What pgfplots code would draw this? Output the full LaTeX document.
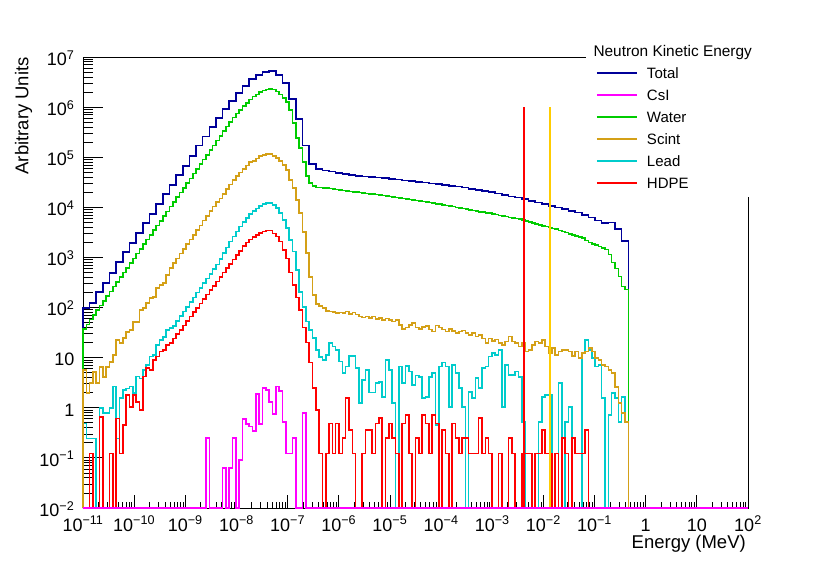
\documentclass[border=0pt]{standalone}
\usepackage{fontspec}
\setmainfont{Liberation Sans}
\usepackage{pgfplots}
\usepackage{pgfplotstable}
\pgfplotsset{compat=1.18}
\definecolor{cTotal}{RGB}{0,0,153}
\definecolor{cCsI}{RGB}{255,0,255}
\definecolor{cWater}{RGB}{0,204,0}
\definecolor{cScint}{RGB}{212,160,23}
\definecolor{cLead}{RGB}{0,204,204}
\definecolor{cHDPE}{RGB}{255,0,0}
\definecolor{cLineY}{RGB}{255,204,0}
\newcommand{\tp}[1]{10\textsuperscript{#1}}
\def\xminor{1e-11}
\foreach \e in {-11,...,1}{\foreach \m in {2,...,9}{\xdef\xminor{\xminor,\m e\e}}}
\def\yminor{1e-2}
\foreach \e in {-2,...,6}{\foreach \m in {2,...,9}{\xdef\yminor{\yminor,\m e\e}}}

\pgfplotstableread{
lx water scint lead hdpe csi
-11 0.01 0.01 0.01 0.01 0.01
-11 37.2 5.68 0.49 0.01 0.01
-10.935 46.1 1.97 0.245 0.01 0.01
-10.87 57.3 3.13 0.245 0.123 0.01
-10.805 71.1 5.19 0.245 0.01 0.01
-10.74 88.3 3.13 0.01 0.01 0.01
-10.675 110 6.52 0.99 0.66 0.01
-10.61 136 4.12 0.78 0.01 0.01
-10.545 169 6.52 0.78 0.01 0.01
-10.48 210 8.20 0.99 0.123 0.01
-10.415 261 11.3 2.64 0.01 0.01
-10.35 324 22.5 0.245 0.61 0.01
-10.285 402 19.6 1.55 0.123 0.01
-10.22 499 24.7 2.26 0.454 0.01
-10.155 619 32.6 2.44 1.80 0.01
-10.09 769 35.7 2.64 1.05 0.01
-10.025 955 51.6 1.95 1.80 0.01
-9.96 1190 51.6 4.18 1.32 0.01
-9.895 1470 89.5 3.87 0.90 0.01
-9.83 1830 98.2 5.68 4.18 0.01
-9.765 2270 124 7.14 6.14 0.01
-9.7 2820 156 10.5 5.68 0.01
-9.635 3500 163 11.3 9.0 0.01
-9.57 4350 246 17.9 10.5 0.01
-9.505 5400 282 22.5 13.2 0.01
-9.44 6700 310 26.2 14.3 0.01
-9.375 8320 448 35.7 17.9 0.01
-9.31 10300 622 38.6 19.7 0.01
-9.245 12800 773 43.4 24.1 0.01
-9.18 15900 959 54.0 29.4 0.01
-9.115 19800 1190 67.0 36.1 0.01
-9.05 24500 1480 83.2 44.2 0.01
-8.985 30500 1840 103 54.0 0.01
-8.92 37800 2280 128 66.1 0.01
-8.855 47000 2830 159 80.8 0.01
-8.79 58300 3520 198 98.9 0.01
-8.725 72400 4370 245 121 0.01
-8.66 89900 5420 305 148 0.01
-8.595 112000 6730 378 181 0.246
-8.53 139000 8360 470 222 0.01
-8.465 172000 10400 583 271 0.01
-8.4 214000 12900 724 332 0.01
-8.335 265000 14900 942 406 0.01
-8.27 330000 18500 1220 497 0.062
-8.205 409000 23000 1590 608 0.01
-8.14 508000 28600 2070 743 0.062
-8.075 617000 34700 2630 910 0.246
-8.01 741000 41700 3310 1110 0.01
-7.945 881000 49500 4120 1360 0.091
-7.88 1040000 58200 5070 1670 0.59
-7.815 1220000 68400 6100 2000 0.475
-7.75 1430000 80400 7330 2290 0.42
-7.685 1620000 85100 8510 2570 0.344
-7.62 1800000 94400 9440 2820 1.88
-7.555 2000000 105000 10700 3090 0.475
-7.49 2140000 112000 11500 3270 2.45
-7.425 2260000 115000 12200 3430 2.26
-7.36 2310000 115000 12300 3430 1.32
-7.295 2240000 106000 11200 3020 0.75
-7.23 2040000 96800 9590 2630 2.64
-7.165 1780000 84300 7620 2090 2.19
-7.1 1510000 70200 5610 1410 0.527
-7.035 1260000 55800 3830 955 0.123
-6.97 871000 35200 2230 501 0.123
-6.905 479000 24400 1310 282 0.246
-6.84 240000 14100 564 158 0.01
-6.775 151000 7730 207 89.1 0.01
-6.71 79400 3230 104 39.8 0.78
-6.645 41700 1230 52.5 20.0 0.01
-6.58 30200 408 35.5 7.94 0.01
-6.515 26300 178 24.5 2.45 0.01
-6.45 25100 118 14.1 0.912 0.01
-6.385 24800 108 10.2 0.123 0.01
-6.32 24500 98.2 8.91 0.01 0.01
-6.255 24000 85.5 11.2 0.123 0.01
-6.19 23600 83.2 19.5 0.49 0.01
-6.125 23100 81.3 16.6 0.123 0.01
-6.06 22700 77.6 14.1 0.49 0.01
-5.995 22200 79.4 8.32 0.123 0.01
-5.93 21800 77.6 4.90 0.25 0.01
-5.865 21300 83.2 6.61 1.55 0.01
-5.8 20800 74.1 10.7 0.36 0.01
-5.735 20400 79.4 10.7 0.123 0.01
-5.67 20000 72.4 6.17 0.01 0.01
-5.605 19600 66.1 1.23 0.01 0.01
-5.54 19300 63.1 3.63 0.123 0.01
-5.475 18900 66.1 5.62 0.36 0.01
-5.41 18600 61.7 2.00 0.36 0.01
-5.345 18200 66.1 2.00 0.123 0.01
-5.28 17900 58.9 3.16 0.49 0.01
-5.215 17500 61.7 3.31 0.62 0.01
-5.15 17100 56.2 1.66 0.01 0.01
-5.085 16700 60.3 8.91 0.25 0.01
-5.02 16400 56.2 5.62 0.49 0.01
-4.955 16000 52.5 1.23 0.25 0.01
-4.89 15700 56.2 0.01 0.123 0.01
-4.825 15300 44.7 6.61 0.01 0.01
-4.76 15000 37.2 3.09 0.49 0.01
-4.695 14700 39.8 6.76 0.72 0.01
-4.63 14400 44.7 5.25 0.123 0.01
-4.565 14000 49.0 2.88 0.01 0.01
-4.5 13700 39.8 4.37 0.25 0.01
-4.435 13300 37.2 4.17 0.123 0.01
-4.37 13000 40.7 1.55 0.72 0.01
-4.305 12700 42.7 1.66 0.49 0.01
-4.24 12400 36.3 4.17 0.123 0.01
-4.175 12100 33.1 4.90 0.72 0.01
-4.11 11800 43.7 0.457 0.49 0.01
-4.045 11500 39.8 6.61 0.01 0.01
-3.98 11200 36.3 7.94 0.36 0.01
-3.915 10900 33.1 6.61 0.123 0.01
-3.85 10600 37.2 1.05 0.01 0.01
-3.785 10300 33.9 7.08 0.49 0.01
-3.72 10000 30.9 4.90 0.25 0.01
-3.655 9730 33.1 2.45 0.123 0.01
-3.59 9440 34.7 1.05 0.25 0.01
-3.525 9140 30.9 0.01 0.25 0.01
-3.46 8870 28.2 2.09 0.123 0.01
-3.395 8590 30.9 1.55 0.123 0.01
-3.33 8390 26.3 3.89 0.123 0.01
-3.265 8180 28.2 2.45 0.62 0.01
-3.2 8000 24.0 6.17 0.123 0.01
-3.135 7800 19.5 6.61 0.25 0.01
-3.07 7620 24.0 10.5 0.123 0.01
-3.005 7380 21.4 12.3 0.01 0.01
-2.94 7160 22.9 11.2 0.01 0.01
-2.875 6930 19.5 14.1 0.123 0.01
-2.81 6730 17.8 1.05 0.01 0.01
-2.745 6520 20.9 7.08 0.01 0.01
-2.68 6320 26.3 4.47 0.25 0.01
-2.615 6140 20.9 4.47 0.123 0.01
-2.55 5960 19.5 5.25 0.01 0.01
-2.485 5780 16.6 4.17 0.01 0.01
-2.42 5610 19.5 0.525 0.123 0.01
-2.355 5360 13.2 0.01 0.123 0.01
-2.29 5120 14.1 0.01 0.123 0.01
-2.225 4890 17.8 0.01 0.01 0.01
-2.16 4670 20.9 0.01 0.123 0.01
-2.095 4460 19.5 0.525 0.123 0.01
-2.03 4290 22.4 1.66 0.36 0.01
-1.965 4120 16.6 1.78 0.123 0.01
-1.9 3950 12.3 1.78 0.123 0.01
-1.835 3800 15.5 0.01 0.01 0.01
-1.77 3660 11.2 0.01 0.123 0.01
-1.705 3470 13.2 3.09 0.01 0.01
-1.64 3290 14.1 0.01 0.25 0.01
-1.575 3130 14.1 0.525 0.123 0.01
-1.51 2960 13.2 1.05 0.01 0.01
-1.445 2810 10.7 0.01 0.25 0.01
-1.38 2670 13.2 0.01 0.123 0.01
-1.315 2540 9.77 0.01 0.123 0.01
-1.25 2420 12.3 12.3 0.123 0.01
-1.185 2190 13.2 22.4 0.36 0.01
-1.12 2000 15.5 14.1 0.01 0.01
-1.055 1860 13.2 9.77 0.01 0.01
-0.99 1780 9.77 6.61 0.01 0.01
-0.925 1660 8.91 7.08 0.01 0.01
-0.86 1550 7.08 1.55 0.01 0.01
-0.795 1450 6.61 0.01 0.01 0.01
-0.73 1150 5.62 0.724 0.01 0.01
-0.665 794 4.90 1.95 0.01 0.01
-0.6 603 2.63 1.55 0.01 0.01
-0.535 417 1.23 0.525 0.01 0.01
-0.47 263 0.776 1.66 0.01 0.01
-0.405 229 0.525 0.525 0.01 0.01
-0.34 0.01 0.01 0.01 0.01 0.01
2 0.01 0.01 0.01 0.01 0.01
}\fine

\pgfplotstableread{
lx total
-11 0.01
-11 97.7
-10.87 123
-10.74 204
-10.61 309
-10.48 490
-10.35 813
-10.22 1290
-10.09 1950
-9.96 3090
-9.83 4900
-9.7 7410
-9.57 11700
-9.44 18600
-9.31 28200
-9.18 44700
-9.05 67600
-8.92 107000
-8.79 170000
-8.66 257000
-8.53 398000
-8.4 603000
-8.27 912000
-8.14 1320000
-8.01 1910000
-7.88 2630000
-7.75 3630000
-7.62 4370000
-7.49 5010000
-7.36 5250000
-7.23 4370000
-7.1 3020000
-6.97 1450000
-6.84 575000
-6.71 170000
-6.58 72400
-6.45 58400
-6.32 54000
-6.19 51600
-6.06 48000
-5.93 45800
-5.8 43700
-5.67 42300
-5.54 41000
-5.41 40400
-5.28 39200
-5.15 38100
-5.02 36900
-4.89 35700
-4.76 34100
-4.63 33200
-4.5 32100
-4.37 31100
-4.24 29700
-4.11 28900
-3.98 28000
-3.85 26700
-3.72 25900
-3.59 24700
-3.46 23300
-3.33 21900
-3.2 20900
-3.07 20000
-2.94 18800
-2.81 17700
-2.68 16400
-2.55 15600
-2.42 14700
-2.29 13400
-2.16 12400
-2.03 11500
-1.9 10700
-1.77 9860
-1.64 9160
-1.51 8470
-1.38 7840
-1.25 7050
-1.12 6220
-0.99 5430
-0.86 4820
-0.73 4950
-0.6 3660
-0.47 2130
-0.34 0.01
2 0.01
}\coarse

\begin{document}
\begin{tikzpicture}
\path[use as bounding box] (0bp,0bp) rectangle (830bp,565bp);
\begin{axis}[
  at={(83bp,57bp)}, anchor=south west,
  scale only axis, width=665bp, height=451bp,
  xmode=log, ymode=log,
  xmin=1e-11, xmax=1e2, ymin=1e-2, ymax=1e7,
  clip=false,
  axis line style={black, line width=0.8bp},
  tick align=inside, tick pos=left,
  tick style={black, line width=0.8bp},
  xtick style={/pgfplots/major tick length=13bp, /pgfplots/minor tick length=6.5bp},
  ytick style={/pgfplots/major tick length=20bp, /pgfplots/minor tick length=10bp},
  xtick={1e-11,1e-10,1e-9,1e-8,1e-7,1e-6,1e-5,1e-4,1e-3,1e-2,1e-1,1,10,100},
  xticklabels={{\tp{−11}},{\tp{−10}},{\tp{−9}},{\tp{−8}},{\tp{−7}},{\tp{−6}},{\tp{−5}},{\tp{−4}},{\tp{−3}},{\tp{−2}},{\tp{−1}},{1},{10},{\tp{2}}},
  ytick={1e-2,1e-1,1,10,100,1e3,1e4,1e5,1e6,1e7},
  yticklabels={{\tp{−2}},{\tp{−1}},{1},{10},{\tp{2}},{\tp{3}},{\tp{4}},{\tp{5}},{\tp{6}},{\tp{7}}},
  minor xtick/.expanded={\xminor},
  minor ytick/.expanded={\yminor},
  tick label style={font=\fontsize{18bp}{20bp}\selectfont, inner sep=0pt},
  xticklabel style={anchor=base, yshift=-23bp},
  yticklabel style={anchor=base east, xshift=-8.5bp, yshift=-8.3bp},
  xlabel={Energy (MeV)},
  ylabel={Arbitrary Units},
  every axis x label/.style={at={(axis description cs:0.99699,-0.0909)}, anchor=base east, inner sep=0pt, font=\fontsize{18.5bp}{20bp}\selectfont},
  every axis y label/.style={at={(axis description cs:-0.08226,1)}, rotate=90, anchor=base east, inner sep=0pt, font=\fontsize{18.5bp}{20bp}\selectfont},
  legend style={at={(axis description cs:0.77143,0.97605)}, anchor=north west, draw=none, fill=none, inner sep=0pt, outer sep=0pt, row sep=11bp, column sep=9bp, font=\fontsize{15bp}{16bp}\selectfont, nodes={inner sep=0pt, outer sep=0pt, text height=11bp, text depth=0pt}},
  legend cell align=left,
  legend image code/.code={\draw[#1] plot coordinates {(0bp,0bp) (20bp,0bp) (40bp,0bp)};},
]
\addplot[const plot, color=cTotal, line width=1.6bp, forget plot] table[x expr={10^(\thisrow{lx})}, y=total] {\coarse};
\addplot[const plot, color=cWater, line width=1.6bp, forget plot] table[x expr={10^(\thisrow{lx})}, y=water] {\fine};
\addplot[const plot, color=cLead, line width=1.6bp, forget plot] table[x expr={10^(\thisrow{lx})}, y=lead] {\fine};
\addplot[const plot, color=cHDPE, line width=1.6bp, forget plot] table[x expr={10^(\thisrow{lx})}, y=hdpe] {\fine};
\addplot[const plot, color=cScint, line width=1.6bp, forget plot] table[x expr={10^(\thisrow{lx})}, y=scint] {\fine};
\addplot[const plot, color=cHDPE, line width=1.9bp, forget plot] coordinates {(4.1e-3,1e-2) (4.1e-3,1e6) (4.1e-3,1e-2)};
\addplot[const plot, color=cLineY, line width=1.9bp, forget plot] coordinates {(1.35e-2,1e-2) (1.35e-2,1e6) (1.35e-2,1e-2)};
\addplot[const plot, color=cCsI, line width=1.6bp, forget plot] table[x expr={10^(\thisrow{lx})}, y=csi] {\fine};
\addlegendimage{const plot, color=cTotal, line width=2bp}\addlegendentry{Total}
\addlegendimage{const plot, color=cCsI, line width=2bp}\addlegendentry{CsI}
\addlegendimage{const plot, color=cWater, line width=2bp}\addlegendentry{Water}
\addlegendimage{const plot, color=cScint, line width=2bp}\addlegendentry{Scint}
\addlegendimage{const plot, color=cLead, line width=2bp}\addlegendentry{Lead}
\addlegendimage{const plot, color=cHDPE, line width=2bp}\addlegendentry{HDPE}
\end{axis}
\fill[white] (586bp,505bp) rectangle (751bp,511bp);
\fill[white] (745bp,368bp) rectangle (751bp,511bp);
\node[anchor=base west, inner sep=0pt, font=\fontsize{15.4bp}{16bp}\selectfont] at (593.3bp,508.3bp) {Neutron Kinetic Energy};
\end{tikzpicture}
\end{document}
